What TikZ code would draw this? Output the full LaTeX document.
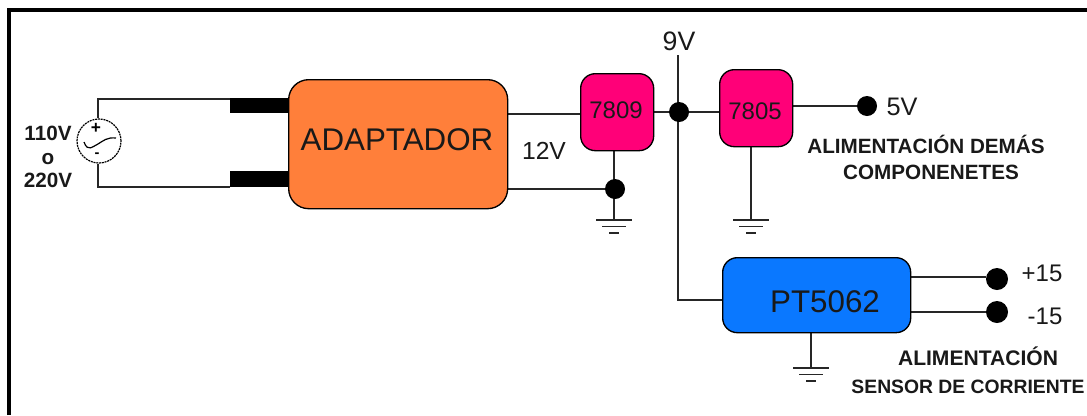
\documentclass[tikz,border=0pt]{standalone}
\usepackage{fontspec}
\setmainfont{Liberation Sans}
\usetikzlibrary{calc}
\definecolor{adapt}{HTML}{FF7F3A}
\definecolor{reg}{HTML}{FF0078}
\definecolor{sens}{HTML}{0A78FF}
\pgfdeclarelayer{paper}
\pgfdeclarelayer{wires}
\pgfsetlayers{paper,wires,main}
\tikzset{
  wire/.style={draw=black!85,line width=1.3pt},
  blockbox/.style={draw=black,line width=1pt,rounded corners=#1,inner sep=0pt,anchor=north west},
  dotnode/.style={circle,fill=black,draw=none,minimum size=#1,inner sep=0pt},
  lab/.style={inner sep=0pt,align=center,text=black!90},
  gndbar/.style={draw=black!85,line width=1.1pt}
}
\newcommand{\gndsym}[1]{%
  \draw[gndbar] ($(#1)+(-18,0)$) -- ($(#1)+(18,0)$);
  \draw[gndbar] ($(#1)+(-12,6.5)$) -- ($(#1)+(12,6.5)$);
  \draw[gndbar] ($(#1)+(-5,13)$) -- ($(#1)+(5,13)$);}
\begin{document}
\begin{tikzpicture}[x=0.75pt,y=-0.75pt]
\useasboundingbox (0,0) rectangle (1087,415);
\begin{pgfonlayer}{paper}
\fill[white] (0,0) rectangle (1087,415);
\end{pgfonlayer}
% frame
\draw[black,line width=2.6pt] (9,415) -- (9,10) -- (1087,10);
% coordinates
\coordinate (srcT) at (98,99);
\coordinate (srcB) at (98,187);
\coordinate (plugT) at (230,99);
\coordinate (plugB) at (230,187);
\coordinate (nine) at (678,55);
\coordinate (g1) at (614,220);
\coordinate (g2) at (751,220);
\coordinate (g3) at (811,368);
\coordinate (a1) at (507,114);
\coordinate (a2) at (507,189);
% blocks
\fill[black] (230,98) rectangle (289,113);
\fill[black] (230,171) rectangle (289,187);
\node[blockbox=15pt,fill=adapt,minimum width=164.25pt,minimum height=96.75pt] (ad) at (288,79) {};
\node[font=\fontsize{23.5}{25}\selectfont,lab] at (397,140) {ADAPTADOR};
\node[blockbox=11pt,fill=reg,minimum width=54.75pt,minimum height=57.75pt] (r1) at (580,73) {};
\node[font=\fontsize{18}{20}\selectfont,lab] at (616,110) {7809};
\node[blockbox=11pt,fill=reg,minimum width=54.75pt,minimum height=57.75pt] (r2) at (719,69) {};
\node[font=\fontsize{18}{20}\selectfont,lab] at (755,111) {7805};
\node[blockbox=11pt,fill=sens,minimum width=141pt,minimum height=56.25pt] (pt) at (722,257) {};
\node[font=\fontsize{23.5}{25}\selectfont,lab] at (825,302) {PT5062};
% source
\node[circle,draw=black,dash pattern=on 1.5pt off 0.6pt,line width=0.9pt,minimum size=33pt,inner sep=0pt] (src) at (99,141) {};
\draw[black,line width=0.9pt] (84,142) .. controls (88,153) and (93,146) .. (98,144) .. controls (103,141) and (107,137) .. (116,138);
\node[font=\fontsize{13}{13}\selectfont\bfseries,inner sep=0pt] (plus) at (96,128) {+};
\node[font=\fontsize{11}{11}\selectfont\bfseries,inner sep=0pt] (minus) at (97,155) {-};
% junction dots
\node[dotnode=15pt] (j1) at (679,112) {};
\node[dotnode=15pt] (j2) at (615,189) {};
\node[dotnode=15pt] (d5) at (867,106) {};
\node[dotnode=16.5pt] (dp) at (997,279) {};
\node[dotnode=16.5pt] (dm) at (997,312) {};
% wires
\begin{pgfonlayer}{wires}
\draw[wire] (src.north -| srcT) -- (srcT) -- (plugT);
\draw[wire] (src.south -| srcB) -- (srcB) -- (plugB);
\draw[wire] (a1) -- (r1.west |- a1);
\draw[wire] (a2) -- (j2);
\draw[wire] (r1.south -| g1) -- (g1);
\draw[wire] (r1.east |- j1) -- (r2.west |- j1);
\draw[wire] (nine) -- (678,300) -- (pt.west |- 0,300);
\draw[wire] (r2.east |- d5) -- (d5);
\draw[wire] (r2.south -| g2) -- (g2);
\draw[wire] (pt.south -| g3) -- (g3);
\draw[wire] (pt.east |- 0,277) -- (dp.west |- 0,277);
\draw[wire] (pt.east |- dm) -- (dm);
\end{pgfonlayer}
\gndsym{g1}
\gndsym{g2}
\gndsym{g3}
% labels
\node[lab,font=\fontsize{15.5}{17.5}\selectfont\bfseries] at (48,157) {110V\\o\\220V};
\node[lab,font=\fontsize{20}{22}\selectfont] at (679,41) {9V};
\node[lab,font=\fontsize{18.5}{20}\selectfont] at (544,151) {12V};
\node[lab,font=\fontsize{19}{20}\selectfont] at (902,107) {5V};
\node[lab,font=\fontsize{15.5}{19.5}\selectfont\bfseries] at (926,144) {ALIMENTACIÓN DEMÁS};
\node[lab,font=\fontsize{15.5}{19.5}\selectfont\bfseries] at (931,172) {COMPONENETES};
\node[lab,font=\fontsize{18}{20}\selectfont] at (1042,273) {+15};
\node[lab,font=\fontsize{18}{20}\selectfont] at (1045,316) {-15};
\node[lab,font=\fontsize{15.8}{17}\selectfont\bfseries] at (978,356) {ALIMENTACIÓN};
\node[lab,font=\fontsize{14.5}{16}\selectfont\bfseries] at (968,387) {SENSOR DE CORRIENTE};
\end{tikzpicture}
\end{document}
